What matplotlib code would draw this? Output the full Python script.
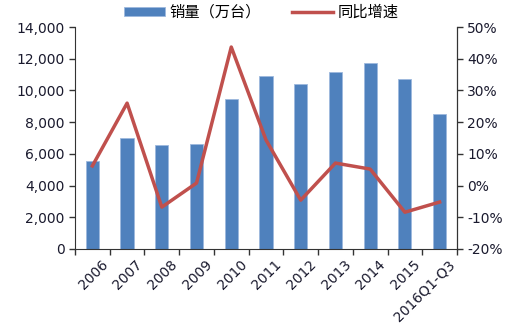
import numpy as np
import matplotlib.pyplot as plt
import matplotlib.transforms as mtrans
from matplotlib.ticker import FuncFormatter, FixedLocator

plt.rcParams['font.family'] = ['Noto Sans CJK SC', 'DejaVu Sans']

# 汽车销量与同比增速
years = ['2006', '2007', '2008', '2009', '2010', '2011', '2012', '2013',
         '2014', '2015', '2016Q1-Q3']
sales = [5550, 7000, 6560, 6620, 9460, 10910, 10400, 11160, 11730, 10720, 8510]
growth = [6.2, 26.0, -6.8, 0.8, 43.7, 14.4, -4.6, 7.1, 5.2, -8.4, -5.2]

bar_color = '#4F81BD'
line_color = '#C0504D'
txt = '#1a1a2e'

fig = plt.figure(figsize=(5.12, 3.3), dpi=100)
ax = fig.add_axes([0.1465, 0.2455, 0.746, 0.6725])
x = np.arange(len(years))

b = ax.bar(x, sales, width=0.38, color=bar_color, edgecolor='#9DB9DE',
           linewidth=0.6, zorder=2)
ax.set_xlim(-0.5, len(years) - 0.5)
ax.set_ylim(0, 14000)
ax.set_yticks(np.arange(0, 14001, 2000))
ax.yaxis.set_major_formatter(FuncFormatter(lambda v, p: f'{int(v):,}'))

ax2 = ax.twinx()
l, = ax2.plot(x, growth, color=line_color, lw=2.5, zorder=3)
ax2.set_ylim(-20, 50)
ax2.set_yticks(np.arange(-20, 51, 10))
ax2.yaxis.set_major_formatter(FuncFormatter(lambda v, p: f'{int(v)}%'))

for a in (ax, ax2):
    a.spines['top'].set_visible(False)
    a.tick_params(axis='y', labelsize=10, colors='#333333', labelcolor=txt,
                  length=4, width=1)
    for lab in a.get_yticklabels():
        lab.set_family('DejaVu Sans')
ax.spines['left'].set_color('#333333')
ax.spines['bottom'].set_color('#333333')
ax2.spines['right'].set_color('#333333')
ax2.spines['left'].set_visible(False)
ax2.spines['bottom'].set_visible(False)

# labels at centres, tick marks between categories
ax.set_xticks(x)
ax.set_xticklabels(years, rotation=45, ha='right', rotation_mode='anchor',
                   fontsize=10, color=txt, family='DejaVu Sans')
ax.tick_params(axis='x', which='major', length=0, pad=6)
ax.xaxis.set_minor_locator(FixedLocator(np.arange(-0.5, len(years), 1)))
ax.tick_params(axis='x', which='minor', length=4, width=1, color='#333333')
off = mtrans.ScaledTranslation(6 / 72, 0, fig.dpi_scale_trans)
for lab in ax.get_xticklabels():
    lab.set_transform(lab.get_transform() + off)

fig.legend([b, l], ['销量（万台）', '同比增速'], loc='upper center',
           bbox_to_anchor=(0.51, 1.03), ncol=2, frameon=False, fontsize=11,
           handlelength=2.7, handleheight=0.5, columnspacing=2.0,
           handletextpad=0.3)

fig.savefig('out.png', dpi=100)
